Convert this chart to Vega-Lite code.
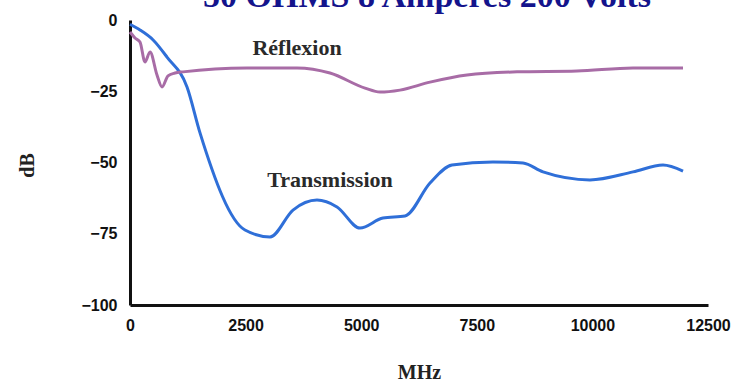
{
  "$schema": "https://vega.github.io/schema/vega-lite/v6.json",
  "autosize": {"type": "none"},
  "width": 578,
  "height": 285,
  "padding": {"left": 130, "top": 20, "right": 27, "bottom": 78},
  "background": "white",
  "config": {"view": {"stroke": null}},
  "title": {
    "text": "50  OHMS 8 Ampères 200 Volts",
    "font": "Liberation Serif",
    "fontSize": 34,
    "fontWeight": "bold",
    "color": "#14148c",
    "baseline": "alphabetic",
    "offset": 0,
    "dy": 29,
    "dx": 8
  },
  "datasets": {
    "curves": [
      {"mhz": 0, "db": -1.5, "serie": "Transmission"},
      {"mhz": 216, "db": -3.5, "serie": "Transmission"},
      {"mhz": 500, "db": -7, "serie": "Transmission"},
      {"mhz": 800, "db": -13, "serie": "Transmission"},
      {"mhz": 1233, "db": -23.5, "serie": "Transmission"},
      {"mhz": 1514, "db": -39.6, "serie": "Transmission"},
      {"mhz": 2487, "db": -73.7, "serie": "Transmission"},
      {"mhz": 3028, "db": -76.1, "serie": "Transmission"},
      {"mhz": 3525, "db": -66.7, "serie": "Transmission"},
      {"mhz": 4044, "db": -63.2, "serie": "Transmission"},
      {"mhz": 4477, "db": -65.6, "serie": "Transmission"},
      {"mhz": 4974, "db": -73, "serie": "Transmission"},
      {"mhz": 5471, "db": -69.5, "serie": "Transmission"},
      {"mhz": 5947, "db": -68.8, "serie": "Transmission"},
      {"mhz": 6488, "db": -57.2, "serie": "Transmission"},
      {"mhz": 6963, "db": -50.9, "serie": "Transmission"},
      {"mhz": 7850, "db": -49.8, "serie": "Transmission"},
      {"mhz": 8499, "db": -50.2, "serie": "Transmission"},
      {"mhz": 8932, "db": -53.3, "serie": "Transmission"},
      {"mhz": 9948, "db": -56.1, "serie": "Transmission"},
      {"mhz": 10878, "db": -53.3, "serie": "Transmission"},
      {"mhz": 11527, "db": -50.9, "serie": "Transmission"},
      {"mhz": 11960, "db": -53, "serie": "Transmission"},
      {"mhz": 0, "db": -4.2, "serie": "Réflexion"},
      {"mhz": 108, "db": -6.3, "serie": "Réflexion"},
      {"mhz": 216, "db": -7.7, "serie": "Réflexion"},
      {"mhz": 324, "db": -14.7, "serie": "Réflexion"},
      {"mhz": 433, "db": -11.2, "serie": "Réflexion"},
      {"mhz": 584, "db": -19.3, "serie": "Réflexion"},
      {"mhz": 692, "db": -23.5, "serie": "Réflexion"},
      {"mhz": 822, "db": -19.6, "serie": "Réflexion"},
      {"mhz": 973, "db": -18.6, "serie": "Réflexion"},
      {"mhz": 1146, "db": -18.2, "serie": "Réflexion"},
      {"mhz": 2530, "db": -16.8, "serie": "Réflexion"},
      {"mhz": 3612, "db": -16.8, "serie": "Réflexion"},
      {"mhz": 4325, "db": -18.6, "serie": "Réflexion"},
      {"mhz": 5082, "db": -23.9, "serie": "Réflexion"},
      {"mhz": 5406, "db": -25.3, "serie": "Réflexion"},
      {"mhz": 5839, "db": -24.6, "serie": "Réflexion"},
      {"mhz": 6488, "db": -21.8, "serie": "Réflexion"},
      {"mhz": 7288, "db": -19.3, "serie": "Réflexion"},
      {"mhz": 8369, "db": -18.2, "serie": "Réflexion"},
      {"mhz": 9667, "db": -17.9, "serie": "Réflexion"},
      {"mhz": 10878, "db": -16.8, "serie": "Réflexion"},
      {"mhz": 11960, "db": -16.8, "serie": "Réflexion"}
    ],
    "labels": [
      {"mhz": 3612, "db": -9.8, "label": "Réflexion"},
      {"mhz": 4325, "db": -56, "label": "Transmission"}
    ]
  },
  "layer": [
    {
      "mark": {"type": "rule", "color": "#c9b8ec", "strokeWidth": 2},
      "encoding": {"x": {"datum": 12450, "type": "quantitative", "scale": {"domain": [0, 12500]}}}
    },
    {
      "data": {"name": "curves"},
      "mark": {"type": "line", "strokeWidth": 3, "interpolate": "monotone"},
      "encoding": {
        "x": {
          "field": "mhz", "type": "quantitative",
          "scale": {"domain": [0, 12500], "nice": false},
          "axis": {
            "title": "MHz",
            "titleFont": "Liberation Serif", "titleFontSize": 20, "titleFontWeight": "bold", "titleColor": "#222",
            "titleBaseline": "alphabetic", "titleY": 73,
            "values": [0, 2500, 5000, 7500, 10000, 12500],
            "format": "d",
            "labelFont": "Liberation Sans Narrow, Liberation Sans", "labelFontSize": 16, "labelFontWeight": "bold", "labelColor": "#111",
            "labelPadding": 12, "labelFlush": false,
            "ticks": false, "grid": false,
            "domainColor": "#111", "domainWidth": 3
          }
        },
        "y": {
          "field": "db", "type": "quantitative",
          "scale": {"domain": [-100, 0], "nice": false},
          "axis": {
            "title": "dB",
            "titleFont": "Liberation Serif", "titleFontSize": 20, "titleFontWeight": "bold", "titleColor": "#222",
            "titleAngle": 270, "titleAlign": "center", "titleBaseline": "middle", "titleX": -103, "titleY": 145,
            "values": [0, -25, -50, -75, -100],
            "labelFont": "Liberation Sans Narrow, Liberation Sans", "labelFontSize": 16, "labelFontWeight": "bold", "labelColor": "#111",
            "labelPadding": 13,
            "ticks": false, "grid": false,
            "domainColor": "#111", "domainWidth": 3
          }
        },
        "color": {
          "field": "serie", "type": "nominal",
          "scale": {"domain": ["Transmission", "Réflexion"], "range": ["#2f6fd8", "#a86ca6"]},
          "legend": null
        },
        "strokeWidth": {
          "field": "serie", "type": "nominal",
          "scale": {"domain": ["Transmission", "Réflexion"], "range": [3, 2.5]},
          "legend": null
        }
      }
    },
    {
      "data": {"name": "labels"},
      "mark": {"type": "text", "font": "Liberation Serif", "fontSize": 22, "fontWeight": "bold", "color": "#2a2a2a", "align": "center", "baseline": "middle"},
      "encoding": {
        "x": {"field": "mhz", "type": "quantitative"},
        "y": {"field": "db", "type": "quantitative"},
        "text": {"field": "label"}
      }
    }
  ]
}
